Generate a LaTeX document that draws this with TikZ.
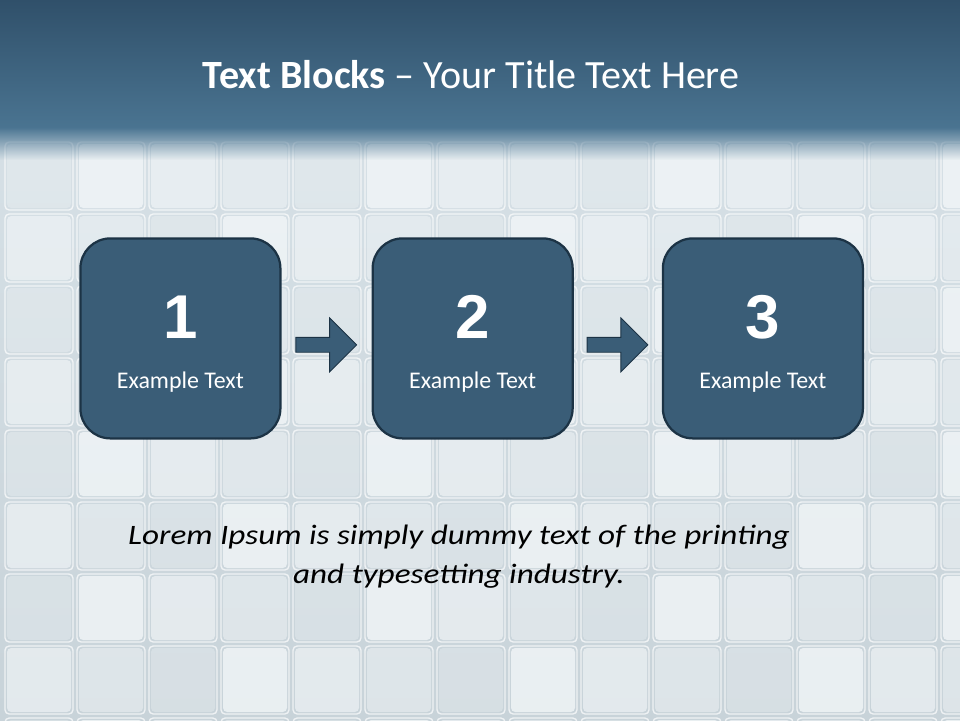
\documentclass[tikz,border=0pt]{standalone}
\usepackage{fontspec}
\setmainfont{Carlito}
\newfontfamily\numfont{Liberation Sans}
\usetikzlibrary{positioning, shapes.arrows, fadings, calc}
\definecolor{hdrtop}{HTML}{30506A}
\definecolor{hdrbot}{HTML}{4A7491}
\definecolor{boxfill}{HTML}{3A5D77}
\definecolor{boxline}{HTML}{1C3345}
\definecolor{tiletop}{HTML}{D9E3E9}
\definecolor{tilebot}{HTML}{C8D3D9}
\definecolor{tilefill}{HTML}{F2F6F8}
\tikzset{
    stepbox/.style={draw=boxline, fill=boxfill, line width=1.6pt, rounded corners=0.75cm,
        minimum size=5cm, inner sep=0pt},
    numtext/.style={text=white, font=\numfont\bfseries\fontsize{44}{50}\selectfont},
    captext/.style={text=white, font=\fontsize{17}{20}\selectfont},
    blockarrow/.style={single arrow, draw=boxline, fill=boxfill, line width=0.6pt,
        minimum height=1.52cm, single arrow head extend=0.49cm, single arrow head indent=0pt,
        inner xsep=0pt, inner ysep=0.175cm, text height=0pt, text depth=0pt}
}

\begin{document}
\begin{tikzpicture}
    \useasboundingbox (0,0) rectangle (24,18);

    % Background of glass tiles
    \shade[top color=tiletop, bottom color=tilebot] (0,0) rectangle (24,18);
    \foreach \i in {0,...,13} {
        \foreach \j in {0,...,8} {
            \pgfmathsetmacro\op{0.35+0.15*mod(3*\i+2*\j,4)}
            \fill[tilefill, opacity=\op, rounded corners=3pt]
                ({0.175+1.8*\i},{14.4-1.8*\j}) rectangle ++(1.6,-1.6);
            \draw[white, opacity=0.7, line width=1pt, rounded corners=3pt]
                ({0.125+1.8*\i},{14.45-1.8*\j}) rectangle ++(1.7,-1.7);
        }
    }

    % Header band
    \shade[top color=hdrtop, bottom color=hdrbot] (0,18) rectangle (24,14.8);
    \fill[hdrbot, path fading=south] (0,14.82) rectangle (24,14.0);
    \node[text=white, font=\fontsize{28.5}{34}\selectfont] (title) at (11.78,16.125)
        {\textbf{Text Blocks} \textendash{} Your Title Text Here};

    % Step boxes
    \node[stepbox] (b1) at (4.51,9.54) {};
    \node[stepbox, right=2.25cm of b1] (b2) {};
    \node[stepbox, right=2.2cm of b2] (b3) {};

    % Numbers and captions
    \node[numtext] (n1) at ($(b1.center)+(0,0.54)$) {1};
    \node[numtext] (n2) at ($(b2.center)+(0,0.54)$) {2};
    \node[numtext] (n3) at ($(b3.center)+(0,0.54)$) {3};
    \node[captext] (t1) at ($(b1.center)+(0,-1.1)$) {Example Text};
    \node[captext] (t2) at ($(b2.center)+(0,-1.1)$) {Example Text};
    \node[captext] (t3) at ($(b3.center)+(0,-1.1)$) {Example Text};

    % Arrows between boxes
    \node[blockarrow] (a1) at ($(b1.east)!0.5!(b2.west)+(-0.1,-0.16)$) {};
    \node[blockarrow] (a2) at ($(b2.east)!0.5!(b3.west)+(-0.1,-0.16)$) {};

    % Bottom text
    \node[align=center, xscale=1.18, transform shape, font=\itshape\fontsize{20}{27.6}\selectfont]
        (lorem) at (11.475,4.075)
        {Lorem Ipsum is simply dummy text of the printing\\and typesetting industry.};
\end{tikzpicture}
\end{document}
